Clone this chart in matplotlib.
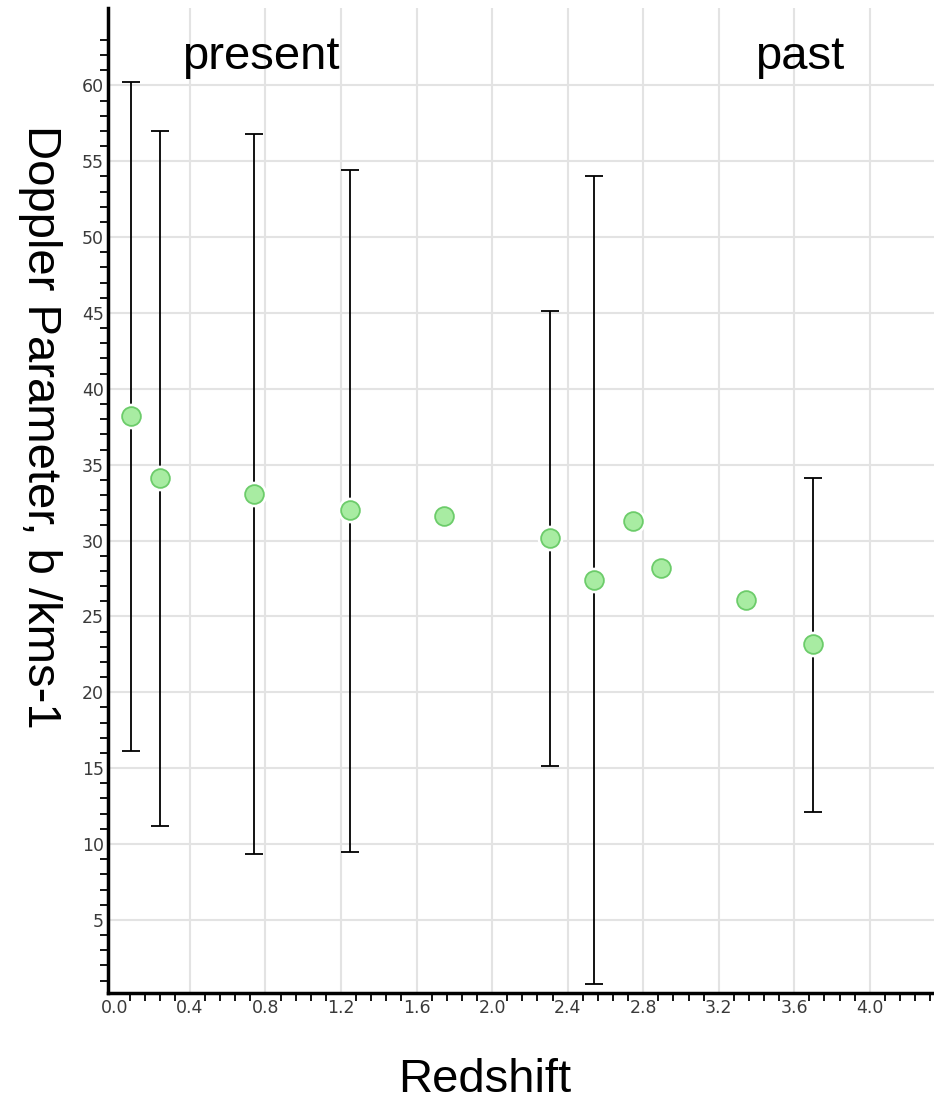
import numpy as np
import matplotlib
matplotlib.use("Agg")
import matplotlib.pyplot as plt
from matplotlib.ticker import MultipleLocator, FixedLocator

# redshift and doppler parameter
z = [0.088, 0.24, 0.739, 1.247, 1.745, 2.306, 2.539, 2.744, 2.897, 3.344, 3.70]
b = [38.2, 34.1, 33.1, 32.0, 31.6, 30.2, 27.4, 31.3, 28.2, 26.1, 23.2]
# error bar ends (nan = no error bar)
b_low = [16.1, 11.2, 9.35, 9.5, np.nan, 15.15, 0.78, np.nan, np.nan, np.nan, 12.1]
b_high = [60.2, 57.0, 56.8, 54.4, np.nan, 45.1, 54.0, np.nan, np.nan, np.nan, 34.15]

def drawChart():
    fig = plt.figure(figsize=(9.34, 11.04), dpi=100)
    ax = fig.add_axes([108/934, 111/1104, 826/934, 985/1104])

    zz = np.array(z)
    bb = np.array(b)
    lo = np.array(b_low)
    hi = np.array(b_high)
    has = ~np.isnan(lo)
    ax.errorbar(zz[has], bb[has], yerr=[bb[has] - lo[has], hi[has] - bb[has]],
                fmt='none', ecolor='black', elinewidth=1.3, capsize=6.5,
                capthick=1.3, zorder=2)
    # white halo so the bar stops short of the dot
    ax.plot(zz, bb, 'o', ms=17.5, mfc='white', mec='white', zorder=3)
    ax.plot(zz, bb, 'o', ms=13.5, mfc='#a8eca2', mec='#6ccc6a', mew=1.3,
            zorder=4)

    ax.set_xlim(-0.034, 4.34)
    ax.set_ylim(0.18, 65.1)

    ax.xaxis.set_major_locator(MultipleLocator(0.4))
    ax.xaxis.set_minor_locator(MultipleLocator(0.08))
    ax.set_yticks(np.arange(5, 61, 5))
    ax.yaxis.set_minor_locator(FixedLocator(np.arange(1, 64)))
    ax.xaxis.set_major_formatter(matplotlib.ticker.FormatStrFormatter('%.1f'))

    ax.tick_params(which='major', length=0, labelsize=12.5, colors='#3a3a3a',
                   pad=4)
    ax.tick_params(axis='y', which='major', pad=3)
    ax.tick_params(which='minor', length=6, width=1.3, color='black')

    # grid: horizontal on y majors, vertical from 0.4 on (none at 0.0)
    ax.grid(True, axis='y', which='major', color='#e3e3e3', linewidth=1.5)
    for gx in np.arange(0.4, 4.3, 0.4):
        ax.axvline(gx, color='#e3e3e3', linewidth=1.5, zorder=0.5)
    ax.set_axisbelow(True)

    for s in ['top', 'right']:
        ax.spines[s].set_visible(False)
    for s in ['left', 'bottom']:
        ax.spines[s].set_linewidth(2.5)
        ax.spines[s].set_color('black')

    ax.text(0.773, 61.05, 'present', fontsize=34, family='Liberation Sans',
            ha='center', va='baseline')
    ax.text(3.63, 61.05, 'past', fontsize=34, family='Liberation Sans',
            ha='center', va='baseline')

    fig.text(485/934, 1 - 1080/1104, 'Redshift', fontsize=34,
             family='Liberation Sans', ha='center', va='center')
    fig.text(40/934, 1 - 427/1104, 'Doppler Parameter, b /kms-1', fontsize=34,
             family='Liberation Sans', ha='center', va='center', rotation=270)

    fig.savefig('out.png', dpi=100)

if __name__ == '__main__':
    drawChart()
